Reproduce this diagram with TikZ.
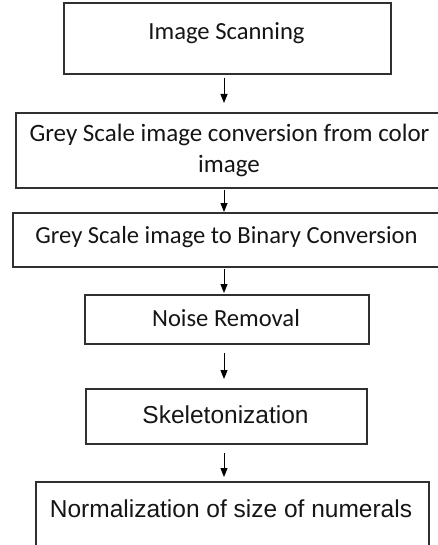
\documentclass[tikz,border=0pt]{standalone}
\usepackage{fontspec}
\newfontfamily\calfont{Carlito}
\newfontfamily\arifont{Liberation Sans}
\usetikzlibrary{arrows.meta}
\definecolor{inkc}{HTML}{151515}
\definecolor{linec}{HTML}{303030}
\tikzset{
  boxnode/.style={draw=linec, line width=1.1pt, rectangle, inner sep=0pt},
  caltext/.style={anchor=base, inner sep=0pt, text=inkc, font=\calfont\fontsize{24.6}{29}\selectfont},
  aritext/.style={anchor=base, inner sep=0pt, text=inkc, font=\arifont\fontsize{24.5}{29}\selectfont},
  flowarrow/.style={draw=black, line width=1pt, -{Triangle[length=9pt,width=7pt]}}
}
\begin{document}
\begin{tikzpicture}[x=1pt,y=-1pt]
\useasboundingbox (0,0) rectangle (438,545);
\clip (0,0) rectangle (438,545);
% boxes
\node[boxnode, minimum width=327pt, minimum height=71pt] (b1) at (227.5,38.5) {};
\node[boxnode, minimum width=444pt, minimum height=75pt] (b2) at (238,150.5) {};
\node[boxnode, minimum width=447pt, minimum height=54pt] (b3) at (236.5,240) {};
\node[boxnode, minimum width=284pt, minimum height=49pt] (b4) at (227,319.5) {};
\node[boxnode, minimum width=281pt, minimum height=55pt] (b5) at (226.5,416.5) {};
\node[boxnode, minimum width=393pt, minimum height=78pt] (b6) at (232.5,521) {};
% texts
\node[caltext] (t1) at (226.5,40) {Image Scanning};
\node[caltext, font=\calfont\fontsize{25}{29}\selectfont] (t2a) at (229.5,142) {Grey Scale image conversion from color};
\node[caltext, font=\calfont\fontsize{25}{29}\selectfont] (t2b) at (229,173) {image};
\node[caltext] (t3) at (226.5,243) {Grey Scale image to Binary Conversion};
\node[caltext] (t4) at (226,326) {Noise Removal};
\node[aritext] (t5) at (225.5,423) {Skeletonization};
\node[aritext] (t6) at (231,517) {Normalization of size of numerals};
% arrow end points
\coordinate (a1s) at (224,78);  \coordinate (a1e) at (224,103);
\coordinate (a2s) at (224,190); \coordinate (a2e) at (224,212);
\coordinate (a3s) at (224,269); \coordinate (a3e) at (224,293);
\coordinate (a4s) at (224,353); \coordinate (a4e) at (224,379);
\coordinate (a5s) at (224,453); \coordinate (a5e) at (224,477);
\draw[flowarrow] (a1s) -- (a1e);
\draw[flowarrow] (a2s) -- (a2e);
\draw[flowarrow] (a3s) -- (a3e);
\draw[flowarrow] (a4s) -- (a4e);
\draw[flowarrow] (a5s) -- (a5e);
\end{tikzpicture}
\end{document}
